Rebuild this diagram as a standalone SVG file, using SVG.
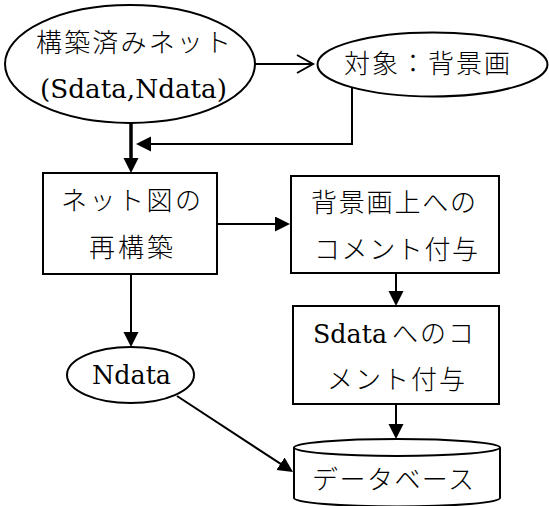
<svg xmlns="http://www.w3.org/2000/svg" width="549" height="506" viewBox="0 0 549 506">
<style>
.shape{fill:#fff;stroke:#000;stroke-width:2}
.conn{fill:none;stroke:#000;stroke-width:2}
.thick{fill:none;stroke:#000;stroke-width:3.5}
.jp{font-family:"Noto Sans CJK JP","Noto Sans CJK SC",sans-serif;font-size:26px;font-weight:300;fill:#000}
.en{font-family:"DejaVu Serif","Liberation Serif",serif;font-size:26px;fill:#000}
</style>
<defs>
<marker id="ah" markerUnits="userSpaceOnUse" markerWidth="16" markerHeight="16" refX="9" refY="7.5" orient="auto">
<path d="M0,0 L15,7.5 L0,15 Z" fill="#000"/>
</marker>
</defs>
<rect width="549" height="506" fill="#fff"/>
<g id="connectors">
<line class="conn" x1="255" y1="64" x2="312" y2="64"/>
<path class="conn" d="M297,55 L313,64 L297,73"/>
<polyline class="conn" points="352,87 352,144 142,144" marker-end="url(#ah)"/>
<line class="thick" x1="131" y1="123" x2="131" y2="167" marker-end="url(#ah)"/>
<line class="conn" x1="217" y1="224" x2="284" y2="224" marker-end="url(#ah)"/>
<line class="conn" x1="131" y1="274" x2="131" y2="341" marker-end="url(#ah)"/>
<line class="conn" x1="396" y1="273" x2="396" y2="300" marker-end="url(#ah)"/>
<line class="conn" x1="396" y1="404" x2="396" y2="433" marker-end="url(#ah)"/>
<line class="conn" x1="177" y1="396" x2="288" y2="468.7" marker-end="url(#ah)"/>
</g>
<g id="node-built-net">
<ellipse class="shape" cx="130" cy="64" rx="125" ry="59"/>
<text class="jp" x="36" y="52" textLength="195">構築済みネット</text>
<text class="en" x="40" y="98" textLength="187" lengthAdjust="spacingAndGlyphs">(Sdata,Ndata)</text>
</g>
<g id="node-target">
<ellipse class="shape" cx="432.5" cy="64.5" rx="115" ry="32"/>
<text class="jp" x="344" y="73" textLength="166">対象：背景画</text>
</g>
<g id="node-rebuild">
<rect class="shape" x="43" y="173" width="174" height="101"/>
<text class="jp" x="61" y="210" textLength="140">ネット図の</text>
<text class="jp" x="89" y="257" textLength="84">再構築</text>
</g>
<g id="node-comment-bg">
<rect class="shape" x="291" y="176" width="208" height="97"/>
<text class="jp" x="311" y="212" textLength="165">背景画上への</text>
<text class="jp" x="314" y="259" textLength="164">コメント付与</text>
</g>
<g id="node-comment-sdata">
<rect class="shape" x="293" y="306" width="206" height="98"/>
<text y="343"><tspan class="en" x="313" textLength="74" lengthAdjust="spacingAndGlyphs">Sdata</tspan> <tspan class="jp" x="392" textLength="82">へのコ</tspan></text>
<text class="jp" x="327" y="389" textLength="138">メント付与</text>
</g>
<g id="node-ndata">
<ellipse class="shape" cx="130.5" cy="375" rx="63.5" ry="28"/>
<text class="en" x="92" y="384" textLength="79" lengthAdjust="spacingAndGlyphs">Ndata</text>
</g>
<g id="node-database">
<path class="shape" d="M294,447.5 L294,498 A103,8.5 0 0 0 500,498 L500,447.5"/>
<ellipse class="shape" cx="397" cy="447.5" rx="103" ry="8.5"/>
<text class="jp" x="312" y="489" textLength="162">データベース</text>
</g>
</svg>
